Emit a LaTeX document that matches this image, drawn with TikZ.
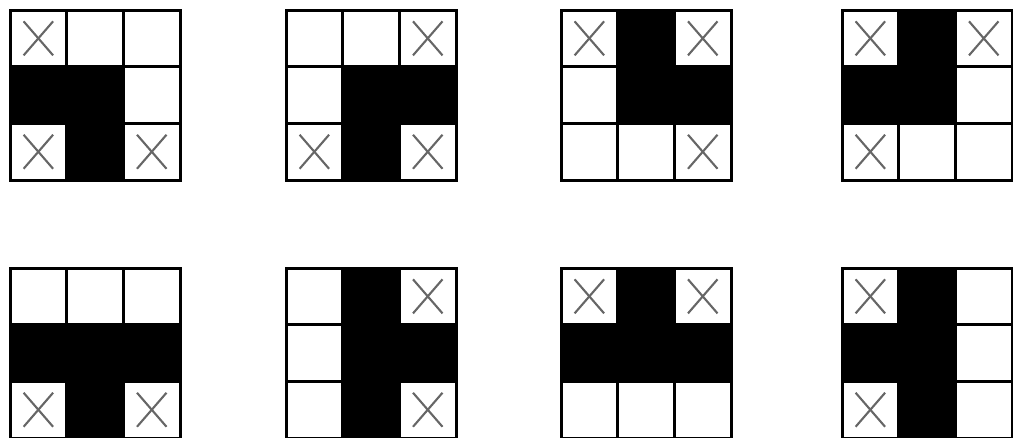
\documentclass[tikz,border=0pt]{standalone}
\usepackage{tikz}
\tikzstyle{cellline} = [draw=black, line width=3pt, line cap=rect]
\tikzstyle{blackcell} = [fill=black]
\tikzstyle{crossmark} = [draw=black!60, line width=2.1pt]
\newcommand{\cs}{56.7}
\newcommand{\tgrid}[4]{%
\begin{scope}[shift={(#1,#2)}]
\foreach \r/\c in {#3} {
  \fill[blackcell] ({\c*\cs},{\r*\cs}) rectangle ++(\cs,\cs);
}
\foreach \r/\c in {#4} {
  \draw[crossmark] ({(\c+0.24)*\cs},{(\r+0.2)*\cs}) -- ({(\c+0.76)*\cs},{(\r+0.8)*\cs});
  \draw[crossmark] ({(\c+0.76)*\cs},{(\r+0.2)*\cs}) -- ({(\c+0.24)*\cs},{(\r+0.8)*\cs});
}
\foreach \k in {0,1,2,3} {
  \draw[cellline] ({\k*\cs},0) -- ({\k*\cs},{3*\cs});
  \draw[cellline] (0,{\k*\cs}) -- ({3*\cs},{\k*\cs});
}
\end{scope}}

\begin{document}
\begin{tikzpicture}[x=1pt,y=-1pt]
\useasboundingbox (0,0) rectangle (1013,437);
% top row
\tgrid{10}{10}{1/0,1/1,2/1}{0/0,2/0,2/2}
\tgrid{286}{10}{1/1,1/2,2/1}{0/2,2/0,2/2}
\tgrid{561}{10}{0/1,1/1,1/2}{0/0,0/2,2/2}
\tgrid{842}{10}{0/1,1/0,1/1}{0/0,0/2,2/0}
% bottom row
\tgrid{10}{268}{1/0,1/1,1/2,2/1}{2/0,2/2}
\tgrid{286}{268}{0/1,1/1,2/1,1/2}{0/2,2/2}
\tgrid{561}{268}{0/1,1/0,1/1,1/2}{0/0,0/2}
\tgrid{842}{268}{0/1,1/0,1/1,2/1}{0/0,2/0}
\end{tikzpicture}
\end{document}
